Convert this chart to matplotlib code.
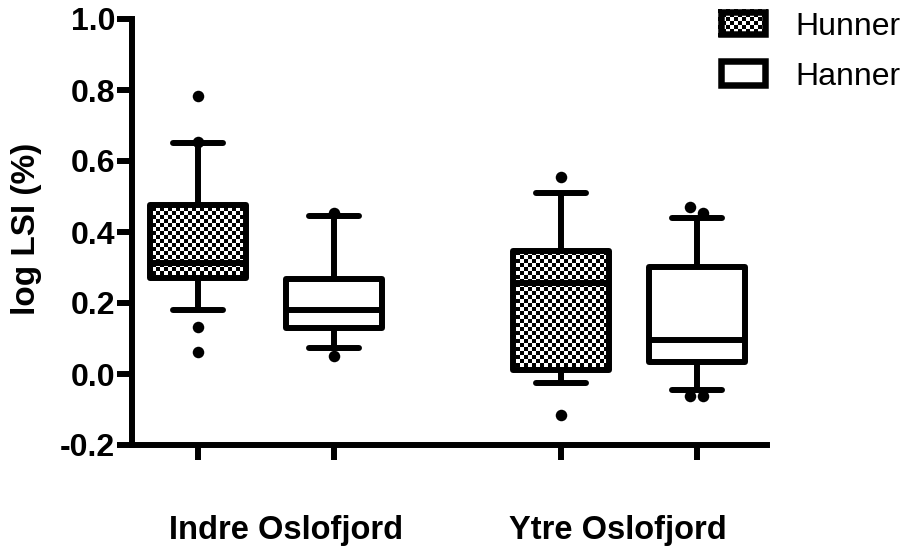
import numpy as np
import matplotlib
matplotlib.use("Agg")
import matplotlib.pyplot as plt
from matplotlib.patches import Rectangle

plt.rcParams['font.family'] = ['Liberation Sans', 'DejaVu Sans']

# ---------------- data ----------------
groups = ["Indre Oslofjord", "Ytre Oslofjord"]
series = ["Hunner", "Hanner"]
# order: Indre-Hunner, Indre-Hanner, Ytre-Hunner, Ytre-Hanner
q1 = [0.270, 0.130, 0.011, 0.035]
med = [0.314, 0.180, 0.255, 0.096]
q3 = [0.476, 0.267, 0.347, 0.302]
whislo = [0.180, 0.074, -0.025, -0.045]
whishi = [0.652, 0.445, 0.509, 0.439]
fliers = [[0.783, 0.654, 0.133, 0.063],
          [0.454, 0.052],
          [0.554, -0.115],
          [0.471, 0.453, -0.062, -0.062]]
ytick_values = [-0.2, 0.0, 0.2, 0.4, 0.6, 0.8, 1.0]
ytick_labels = ["-0.2", "0.0", "0.2", "0.4", "0.6", "0.8", "1.0"]
ylabel = "log LSI (%)"

# ---------------- layout ----------------
W, H = 910, 550
fig = plt.figure(figsize=(W / 100, H / 100), dpi=100)
ax_l, ax_r, ax_t, ax_b = 132, 767, 19, 445
ax = fig.add_axes([ax_l / W, 1 - ax_b / H, (ax_r - ax_l) / W, (ax_b - ax_t) / H])

group_gap = 2.669
group_centers = [1.5, 1.5 + group_gap]
pos = []
for gc in group_centers:
    pos += [gc - 0.5, gc + 0.5]
xlim = (0.515, pos[-1] + 0.515)
ylim = (-0.2, 1.0)

stats = []
for i in range(4):
    stats.append(dict(med=med[i], q1=q1[i], q3=q3[i],
                      whislo=whislo[i], whishi=whishi[i], fliers=[]))

LW = 4.3
bp = ax.bxp(stats, positions=pos, widths=0.706, capwidths=0.37,
            patch_artist=True, showfliers=False,
            boxprops=dict(facecolor='white', edgecolor='black', linewidth=LW,
                          joinstyle='round'),
            whiskerprops=dict(color='black', linewidth=LW, solid_capstyle='butt'),
            capprops=dict(color='black', linewidth=LW, solid_capstyle='round'),
            medianprops=dict(color='black', linewidth=LW, solid_capstyle='butt'))

# checkerboard fill (4 px cells) for the "Hunner" boxes
hp, wp = ax_b - ax_t, ax_r - ax_l
yy, xx = np.mgrid[0:hp, 0:wp]
checker = ((yy // 4 + xx // 4) % 2).astype(float)
for i in (0, 2):
    box = bp['boxes'][i]
    box.set_facecolor('none')
    box.set_zorder(3)
    im = ax.imshow(checker, cmap='gray', vmin=0, vmax=1, extent=(*xlim, *ylim),
                   origin='upper', aspect='auto', interpolation='nearest', zorder=1.5)
    im.set_clip_path(box)
for k in ('whiskers', 'caps', 'medians'):
    for ln in bp[k]:
        ln.set_zorder(3)

# outliers (small horizontal jitter like the original)
px_unit = (ax_r - ax_l) / (xlim[1] - xlim[0])
jit = 6.5 / px_unit
flier_offsets = [[0, 0, 0, 0], [0, 0], [0, 0], [-jit, jit, -jit, jit]]
for i in range(4):
    xs = [pos[i] + o for o in flier_offsets[i]]
    ax.plot(xs, fliers[i], 'o', color='black', markersize=8.3, zorder=4,
            markeredgewidth=0)

ax.set_xlim(*xlim)
ax.set_ylim(*ylim)

for s in ('top', 'right'):
    ax.spines[s].set_visible(False)
for s in ('left', 'bottom'):
    ax.spines[s].set_linewidth(LW)
    ax.spines[s].set_capstyle('projecting')

ax.set_yticks(ytick_values)
ax.set_yticklabels(ytick_labels, fontsize=23, fontweight='bold')
ax.set_xticks(pos)
ax.set_xticklabels([])
ax.tick_params(axis='both', length=11, width=LW, color='black', direction='out')
ax.tick_params(axis='y', pad=1)

ax.set_ylabel(ylabel, fontsize=24, fontweight='bold')
ax.yaxis.label.set(ha='center', va='center', rotation_mode='default')
ax.yaxis.set_label_coords((27 - ax_l) / wp, (ax_b - 228.5) / hp)

label_x_px = [286.5, 617.5]
for g, lx in zip(groups, label_x_px):
    ax.text((lx - ax_l) / px_unit + xlim[0], (ax_b - 530) / hp, g,
            transform=ax.get_xaxis_transform(), ha='center', va='center',
            fontsize=23.5, fontweight='bold')

# ---------------- legend (overlay in pixel coordinates) ----------------
ov = fig.add_axes([0, 0, 1, 1], zorder=10)
ov.set_xlim(0, W)
ov.set_ylim(H, 0)
ov.axis('off')

sw_x0, sw_x1 = 718, 768
sw_rows = [(9, 37), (58, 88)]
text_base = [35, 85]
blw = 6.5
for j, name in enumerate(series):
    y0, y1 = sw_rows[j]
    if j == 0:
        h, w = y1 - y0, sw_x1 - sw_x0
        yy2, xx2 = np.mgrid[0:h, 0:w]
        ch = ((yy2 // 4 + xx2 // 4) % 2).astype(float)
        ov.imshow(ch, cmap='gray', vmin=0, vmax=1, extent=(sw_x0, sw_x1, y1, y0),
                  origin='upper', aspect='auto', interpolation='nearest')
        fc = 'none'
    else:
        fc = 'white'
    ov.add_patch(Rectangle((sw_x0 + blw / 2, y0 + blw / 2),
                           sw_x1 - sw_x0 - blw, y1 - y0 - blw,
                           facecolor=fc, edgecolor='black',
                           linewidth=blw * 72 / 100, joinstyle='miter'))
    ov.text(795, text_base[j], name, fontsize=23, ha='left', va='baseline')
ov.set_xlim(0, W)
ov.set_ylim(H, 0)

fig.savefig('out.png', dpi=100)
